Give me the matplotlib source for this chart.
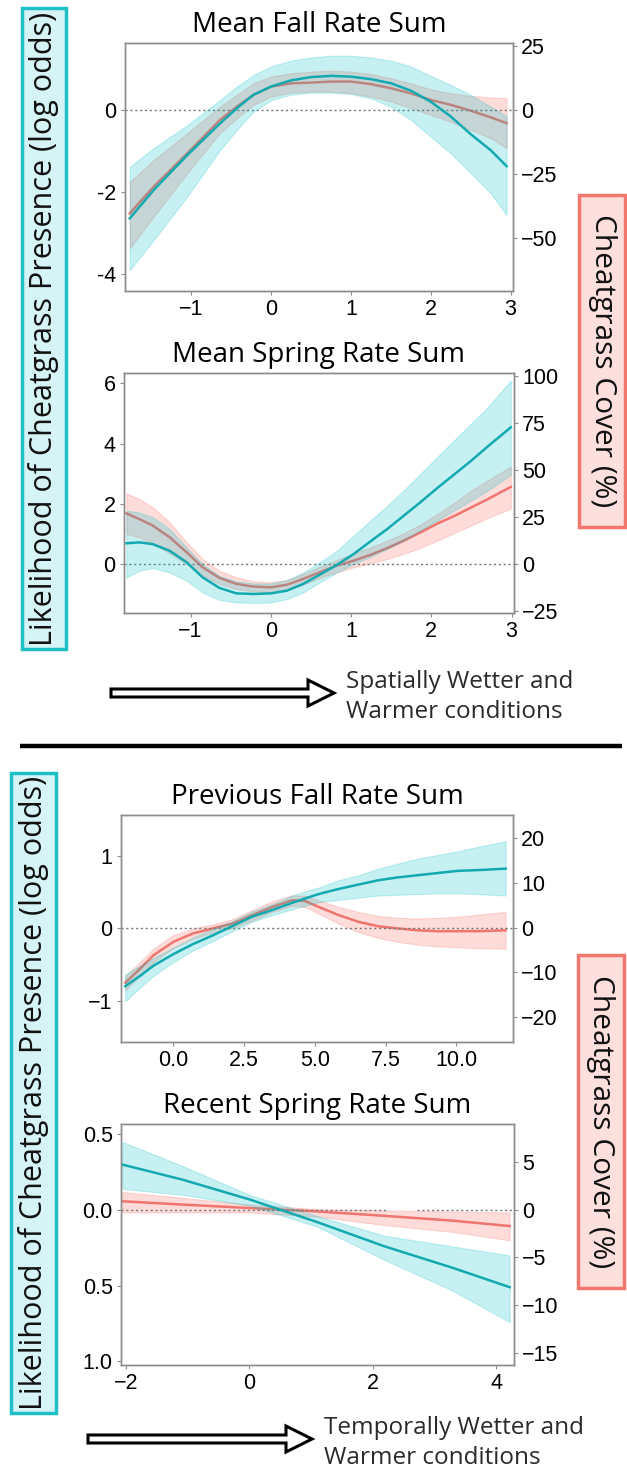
import numpy as np
import matplotlib
matplotlib.use("Agg")
import matplotlib.pyplot as plt
from matplotlib.patches import FancyArrow, Rectangle

# ---------------- data ----------------
# Panel 1: Mean Fall Rate Sum
p1_x = [-1.77, -1.47, -1.05, -0.64, -0.43, -0.22, 0.0, 0.25, 0.5, 0.75, 1.0,
        1.25, 1.5, 1.75, 2.0, 2.25, 2.5, 2.75, 2.95]
p1_pres = [-2.64, -1.95, -1.10, -0.33, 0.04, 0.37, 0.57, 0.72, 0.80, 0.83, 0.81,
           0.75, 0.65, 0.47, 0.20, -0.16, -0.59, -0.98, -1.37]
p1_pres_hi = [-1.38, -0.93, -0.37, 0.24, 0.57, 0.85, 1.06, 1.20, 1.28, 1.32, 1.32,
              1.28, 1.20, 1.06, 0.83, 0.61, 0.37, 0.08, -0.15]
p1_pres_lo = [-3.90, -3.17, -2.11, -0.98, -0.49, -0.04, 0.24, 0.37, 0.42, 0.42, 0.39,
              0.28, 0.08, -0.24, -0.65, -1.06, -1.54, -2.03, -2.56]
p1_cov = [-40.5, -30.0, -17.0, -3.9, 1.3, 5.9, 9.1, 10.4, 10.7, 11.1, 11.1,
          10.1, 8.5, 6.5, 3.9, 2.0, -0.3, -2.9, -5.2]
p1_cov_hi = [-28.1, -19.6, -9.1, 1.3, 5.9, 10.4, 13.1, 14.4, 15.0, 15.4, 15.0,
             14.1, 12.4, 10.4, 8.1, 6.5, 5.5, 4.9, 4.6]
p1_cov_lo = [-54.2, -41.8, -24.8, -9.1, -3.3, 2.0, 5.2, 6.8, 7.2, 7.2, 6.5,
             5.2, 3.3, 0.7, -2.0, -4.6, -7.8, -11.1, -15.0]

# Panel 2: Mean Spring Rate Sum
p2_x = [-1.80, -1.64, -1.47, -1.26, -1.05, -0.85, -0.64, -0.43, -0.22, 0.0, 0.20,
        0.40, 0.61, 0.82, 1.03, 1.24, 1.45, 1.65, 1.86, 2.07, 2.28, 2.49, 2.70, 2.99]
p2_pres = [0.70, 0.73, 0.67, 0.45, 0.07, -0.43, -0.78, -0.96, -0.98, -0.96, -0.87,
           -0.65, -0.34, -0.02, 0.34, 0.76, 1.17, 1.60, 2.05, 2.52, 2.97, 3.42, 3.90, 4.54]
p2_pres_hi = [1.78, 1.72, 1.56, 1.17, 0.56, 0.01, -0.38, -0.56, -0.63, -0.63, -0.52,
              -0.27, 0.07, 0.45, 0.95, 1.45, 1.94, 2.44, 2.99, 3.55, 4.10, 4.65, 5.20, 6.09]
p2_pres_lo = [-0.43, -0.21, -0.12, -0.27, -0.54, -0.93, -1.18, -1.26, -1.28, -1.26, -1.15,
              -0.93, -0.60, -0.27, 0.01, 0.25, 0.51, 0.78, 1.12, 1.45, 1.78, 2.11, 2.44, 2.97]
p2_cov = [27.0, 24.0, 20.5, 14.3, 6.4, -1.6, -7.2, -10.4, -11.8, -12.2, -10.8,
          -7.8, -4.2, -0.7, 1.9, 5.0, 8.6, 12.4, 16.8, 21.5, 25.5, 30.0, 34.5, 41.0]
p2_cov_hi = [37.6, 34.6, 30.2, 22.3, 11.7, 2.8, -3.4, -6.9, -9.0, -9.5, -8.3,
             -5.1, -1.2, 2.3, 5.8, 9.0, 12.5, 16.4, 21.0, 26.5, 32.5, 39.0, 44.5, 51.8]
p2_cov_lo = [16.1, 14.3, 10.8, 5.8, 0.2, -6.0, -10.4, -13.1, -14.3, -14.8, -13.6,
             -10.8, -7.2, -4.2, -1.6, 0.5, 2.8, 5.5, 8.6, 12.5, 16.5, 20.5, 24.5, 29.5]

# Panel 3: Previous Fall Rate Sum
p3_x = [-1.69, -1.17, -0.70, 0.0, 0.70, 1.40, 2.10, 2.80, 3.50, 4.21, 4.67,
        5.14, 5.84, 6.54, 7.24, 7.94, 8.64, 9.35, 10.05, 10.75, 11.74]
p3_pres = [-0.80, -0.66, -0.52, -0.36, -0.22, -0.10, 0.03, 0.16, 0.25, 0.35, 0.41,
           0.47, 0.54, 0.60, 0.66, 0.70, 0.73, 0.76, 0.79, 0.80, 0.82]
p3_pres_hi = [-0.64, -0.52, -0.41, -0.27, -0.13, -0.01, 0.10, 0.23, 0.33, 0.45, 0.51,
              0.56, 0.66, 0.73, 0.82, 0.89, 0.96, 1.01, 1.06, 1.12, 1.20]
p3_pres_lo = [-1.01, -0.82, -0.66, -0.47, -0.31, -0.18, -0.04, 0.09, 0.18, 0.26, 0.31,
              0.36, 0.39, 0.42, 0.45, 0.46, 0.47, 0.48, 0.48, 0.47, 0.45]
p3_cov = [-12.3, -9.2, -6.2, -3.2, -1.3, -0.2, 0.9, 2.8, 4.6, 6.1, 5.9,
          4.6, 2.8, 1.3, 0.3, -0.2, -0.6, -0.8, -0.8, -0.8, -0.6]
p3_cov_hi = [-10.7, -7.7, -4.7, -1.7, -0.2, 0.7, 1.9, 3.9, 5.9, 7.2, 7.1,
             6.1, 4.6, 3.5, 2.6, 2.2, 2.0, 2.2, 2.4, 2.9, 3.5]
p3_cov_lo = [-14.0, -10.7, -7.7, -4.6, -2.5, -1.1, -0.1, 1.6, 3.5, 4.9, 4.6,
             3.1, 0.9, -1.0, -2.3, -3.2, -3.8, -4.2, -4.4, -4.6, -4.7]

# Panel 4: Recent Spring Rate Sum
p4_x = [-2.06, -1.08, 0.0, 1.10, 2.19, 3.28, 4.22]
p4_pres = [0.30, 0.20, 0.07, -0.08, -0.24, -0.38, -0.51]
p4_pres_hi = [0.45, 0.29, 0.10, -0.04, -0.17, -0.24, -0.30]
p4_pres_lo = [0.14, 0.10, 0.03, -0.11, -0.33, -0.53, -0.74]
p4_cov = [0.89, 0.54, 0.18, -0.18, -0.64, -1.14, -1.71]
p4_cov_hi = [1.86, 1.25, 0.54, 0.07, -0.07, -0.18, -0.29]
p4_cov_lo = [-0.29, -0.29, -0.29, -0.71, -1.61, -2.32, -3.21]

titles = ["Mean Fall Rate Sum", "Mean Spring Rate Sum",
          "Previous Fall Rate Sum", "Recent Spring Rate Sum"]
left_label = "Likelihood of Cheatgrass Presence (log odds)"
right_label = "Cheatgrass Cover (%)"
arrow_text_1 = "Spatially Wetter and\nWarmer conditions"
arrow_text_2 = "Temporally Wetter and\nWarmer conditions"

# ---------------- styling ----------------
W, H = 627, 1477
DPI = 100
CYAN = "#00BFC4"
CYAN_LINE = "#12aab0"
RED = "#F8766D"
RED_LINE = "#ee6a62"
FRAME = "#8c8c8c"
TICKFONT = ["Liberation Sans", "DejaVu Sans"]
TITLEFONT = ["Open Sans", "DejaVu Sans"]

fig = plt.figure(figsize=(W / DPI, H / DPI), dpi=DPI)
fig.patch.set_facecolor("white")


def rect(x0, y0, x1, y1):
    return [x0 / W, 1 - y1 / H, (x1 - x0) / W, (y1 - y0) / H]


def panel(box, x, pres, plo, phi, cov, clo, chi, xlim, ylim_l, ylim_r,
          xticks, xlabels, lticks, llabels, rticks, rlabels, title,
          zero_gaps=None):
    ax = fig.add_axes(rect(*box))
    ax2 = ax.twinx()
    ax.set_zorder(2)
    ax.patch.set_visible(False)
    # cover (right axis)
    ax2.fill_between(x, clo, chi, color=RED, alpha=0.25, lw=0.8,
                     edgecolor=(0.97, 0.46, 0.43, 0.45))
    ax2.plot(x, cov, color=RED_LINE, lw=1.8, alpha=0.9)
    # presence (left axis)
    ax.fill_between(x, plo, phi, color=CYAN, alpha=0.22, lw=0.8,
                    edgecolor=(0.0, 0.75, 0.77, 0.55))
    ax.plot(x, pres, color=CYAN_LINE, lw=1.8)
    segs = zero_gaps if zero_gaps else [xlim]
    for a, b in segs:
        ax.plot([a, b], [0, 0], color="#777777", lw=1.0, ls=(0, (1.5, 2)),
                zorder=0.5)
    ax.set_xlim(*xlim)
    ax2.set_xlim(*xlim)
    ax.set_ylim(*ylim_l)
    ax2.set_ylim(*ylim_r)
    ax.set_xticks(xticks)
    ax.set_xticklabels(xlabels)
    ax.set_yticks(lticks)
    ax.set_yticklabels(llabels)
    ax2.set_yticks(rticks)
    ax2.set_yticklabels(rlabels)
    for a in (ax, ax2):
        for s in a.spines.values():
            s.set_color(FRAME)
            s.set_linewidth(1.0)
        a.tick_params(colors=FRAME, length=3, width=0.8, labelcolor="black",
                      labelsize=15.5)
        for lab in a.get_xticklabels() + a.get_yticklabels():
            lab.set_family(TICKFONT)
    ax.tick_params(axis="y", pad=3)
    ax2.tick_params(axis="y", pad=3)
    ax.tick_params(axis="x", pad=3)
    cx = (box[0] + box[2]) / 2 / W
    fig.text(cx, 1 - (box[1] - 18) / H, title, ha="center", va="center",
             fontsize=20, family=TITLEFONT, color="black")
    return ax


M = "\u2212"
panel((125, 43, 513, 291), p1_x, p1_pres, p1_pres_lo, p1_pres_hi,
      p1_cov, p1_cov_lo, p1_cov_hi, (-1.83, 3.03), (-4.41, 1.63), (-70.9, 26.2),
      [-1, 0, 1, 2, 3], [M + "1", "0", "1", "2", "3"],
      [-4, -2, 0], ["-4", "-2", "0"],
      [-50, -25, 0, 25], [M + "50", M + "25", "0", "25"], titles[0])

panel((124, 373, 514, 613), p2_x, p2_pres, p2_pres_lo, p2_pres_hi,
      p2_cov, p2_cov_lo, p2_cov_hi, (-1.83, 3.03), (-1.61, 6.34), (-25.8, 101.4),
      [-1, 0, 1, 2, 3], [M + "1", "0", "1", "2", "3"],
      [0, 2, 4, 6], ["0", "2", "4", "6"],
      [-25, 0, 25, 50, 75, 100], [M + "25", "0", "25", "50", "75", "100"], titles[1])

panel((121, 815, 513, 1042), p3_x, p3_pres, p3_pres_lo, p3_pres_hi,
      p3_cov, p3_cov_lo, p3_cov_hi, (-1.84, 12.0), (-1.57, 1.56), (-25.5, 25.1),
      [0, 2.5, 5, 7.5, 10], ["0.0", "2.5", "5.0", "7.5", "10.0"],
      [-1, 0, 1], [M + "1", "0", "1"],
      [-20, -10, 0, 10, 20], [M + "20", M + "10", "0", "10", "20"], titles[2])

panel((121, 1124, 514, 1365), p4_x, p4_pres, p4_pres_lo, p4_pres_hi,
      p4_cov, p4_cov_lo, p4_cov_hi, (-2.08, 4.29), (-1.024, 0.568), (-16.3, 9.0),
      [-2, 0, 2, 4], [M + "2", "0", "2", "4"],
      [-1.0, -0.5, 0.0, 0.5], ["1.0", "0.5", "0.0", "0.5"],
      [-15, -10, -5, 0, 5], [M + "15", M + "10", M + "5", "0", "5"], titles[3],
      zero_gaps=[(-2.08, 2.25), (2.72, 4.29)])

# ---------------- overlay: label boxes, arrows, separator ----------------
ov = fig.add_axes([0, 0, 1, 1], zorder=10)
ov.set_xlim(0, W)
ov.set_ylim(H, 0)
ov.axis("off")
ov.patch.set_visible(False)


def label_box(x0, y0, x1, y1, fc, ec, text, rot, fs):
    ov.add_patch(Rectangle((x0, y0), x1 - x0, y1 - y0, facecolor=fc,
                           edgecolor=ec, lw=2.5))
    ov.text((x0 + x1) / 2, (y0 + y1) / 2, text, rotation=rot, ha="center",
            va="center", fontsize=fs, family=TITLEFONT, color="#111111")


label_box(22, 8, 66, 649, "#d6f4f5", "#1fc0c5", left_label, 90, 22)
label_box(11, 773, 56, 1413, "#d6f4f5", "#1fc0c5", left_label, 90, 22)
label_box(579, 195, 625, 527, "#fde0de", "#f2776f", right_label, 270, 21.5)
label_box(578, 955, 624, 1288, "#fde0de", "#f2776f", right_label, 270, 21.5)

# separator
ov.plot([20, 622], [746, 746], color="black", lw=3.2, solid_capstyle="butt")


def block_arrow(x0, x1, y):
    hl = 26
    ov.add_patch(FancyArrow(x0, y, x1 - x0 - hl, 0, width=8, head_width=26,
                            head_length=hl, length_includes_head=False,
                            facecolor="white", edgecolor="black", lw=2.2))


block_arrow(111, 334, 693)
block_arrow(88, 312, 1439)
ov.text(346, 697, arrow_text_1, ha="left", va="center", fontsize=17.5,
        family=TITLEFONT, color="#2a2a2a", linespacing=1.3)
ov.text(324, 1443, arrow_text_2, ha="left", va="center", fontsize=17.5,
        family=TITLEFONT, color="#2a2a2a", linespacing=1.3)

fig.savefig("out.png", dpi=DPI, facecolor="white")
